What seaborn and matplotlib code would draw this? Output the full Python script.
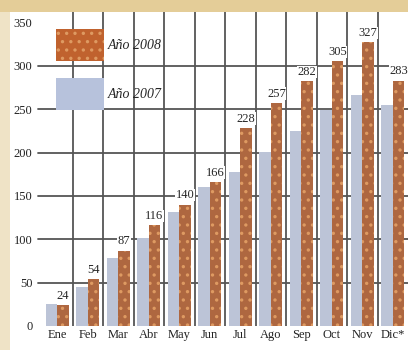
import pandas as pd
import matplotlib
matplotlib.use("Agg")
import matplotlib.pyplot as plt
import seaborn as sns
from matplotlib.patches import Rectangle, Patch

# datos
meses = ['Ene', 'Feb', 'Mar', 'Abr', 'May', 'Jun', 'Jul', 'Ago', 'Sep', 'Oct', 'Nov', 'Dic*']
anio_2007 = [25, 45, 78, 101, 131, 160, 178, 201, 225, 249, 266, 255]
anio_2008 = [24, 54, 87, 116, 140, 166, 228, 257, 282, 305, 327, 283]
etiquetas_2008 = ['24', '54', '87', '116', '140', '166', '228', '257', '282', '305', '327', '283']

df = pd.DataFrame({
    'Mes': meses * 2,
    'Valor': anio_2007 + anio_2008,
    'Serie': ['Año 2007'] * 12 + ['Año 2008'] * 12,
})

azul = '#b7c2dc'
naranja = '#c0622e'

sns.set_style("white")
plt.rcParams['font.family'] = ['Liberation Serif', 'DejaVu Serif']
plt.rcParams['hatch.linewidth'] = 1.2

fig = plt.figure(figsize=(4.08, 3.5), dpi=100)
fig.patch.set_facecolor('white')
# marco beige
fig.patches.append(Rectangle((0, 0), 10 / 408, 1, transform=fig.transFigure,
                             facecolor='#efe3c6', edgecolor='none', zorder=0))
fig.patches.append(Rectangle((0, 1 - 12 / 350), 1, 12 / 350, transform=fig.transFigure,
                             facecolor='#e4cd98', edgecolor='none', zorder=0))

ax = fig.add_axes([42 / 408, 24 / 350, 366 / 408, 314 / 350])
ax.set_facecolor('none')

sns.barplot(data=df, x='Mes', y='Valor', hue='Serie', order=meses,
            hue_order=['Año 2007', 'Año 2008'], palette=[azul, naranja],
            width=0.76, gap=0, legend=False, ax=ax, zorder=3)

for i, bar in enumerate(ax.patches):
    bar.set_linewidth(0)
    if i >= len(meses):
        bar.set_hatch('..')
        bar.set_edgecolor('#de9a62')

# etiquetas sobre barras 2008
barras_2008 = ax.containers[1]
ax.bar_label(barras_2008, labels=etiquetas_2008, padding=2.5, fontsize=9,
             zorder=5, bbox=dict(facecolor='white', edgecolor='none', pad=0.3))

ax.set_ylim(0, 362)
ax.set_xlim(-0.5, 11.5)
ax.set_yticks(range(0, 351, 50))
ax.tick_params(axis='both', length=0, labelsize=9, colors='#222222')
ax.tick_params(axis='y', pad=7)
ax.tick_params(axis='x', pad=2)
ax.set_xlabel('')
ax.set_ylabel('')

for v in range(50, 301, 50):
    ax.axhline(v, color='#555555', lw=1.3, zorder=1, xmin=-0.01, clip_on=False)
for k in range(1, 12):
    ax.axvline(k - 0.5, color='#555555', lw=1.3, zorder=1)

for s in ax.spines.values():
    s.set_visible(False)

handles = [Patch(facecolor=naranja, edgecolor='#de9a62', hatch='..', lw=0),
           Patch(facecolor=azul, edgecolor='none', lw=0)]
ax.legend(handles, ['Año 2008', 'Año 2007'], loc='upper left',
          bbox_to_anchor=(0.022, 0.965), frameon=False,
          handlelength=3.45, handleheight=3.2, labelspacing=1.2,
          handletextpad=0.3, borderaxespad=0,
          prop=dict(family='Liberation Serif', style='italic', size=10))

fig.savefig('out.png', dpi=100)
